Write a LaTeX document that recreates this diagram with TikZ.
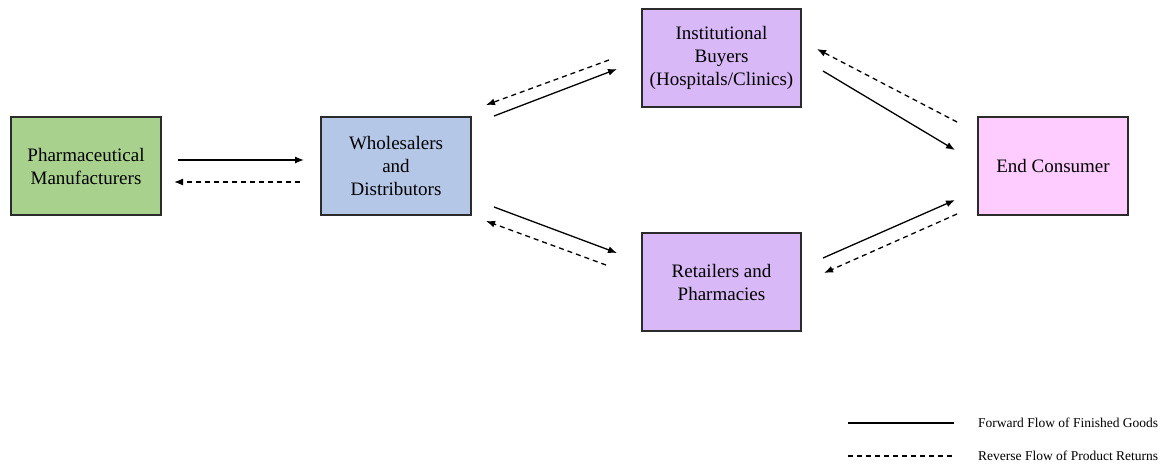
\documentclass[tikz,border=0pt]{standalone}
\usepackage{fontspec}
\setmainfont{Liberation Serif}
\usetikzlibrary{arrows.meta}
\definecolor{mgreen}{HTML}{A9D18E}
\definecolor{mblue}{HTML}{B4C7E7}
\definecolor{mpurple}{HTML}{D9B8F7}
\definecolor{mpink}{HTML}{FFCCFF}
\definecolor{mborder}{HTML}{2B2B2B}
\tikzset{
  box/.style={draw=mborder, line width=1.4pt, minimum width=150pt, minimum height=98pt, align=center, inner sep=2pt, font=\fontsize{19}{23}\selectfont},
  fwd/.style={line width=1.3pt, -{Latex[length=9pt,width=7pt]}},
  rev/.style={line width=1.3pt, dash pattern=on 5pt off 4pt, -{Latex[length=9pt,width=7pt]}},
  legtext/.style={anchor=west, font=\fontsize{13.5}{15}\selectfont, inner sep=0pt}
}
\begin{document}
\begin{tikzpicture}[x=1pt,y=-1pt]
\useasboundingbox (0,0) rectangle (1164,464);
\node[box, fill=mgreen] (man) at (86,166) {Pharmaceutical\\Manufacturers};
\node[box, fill=mblue] (whl) at (396,166) {Wholesalers\\and\\Distributors};
\node[box, fill=mpurple, minimum width=159pt] (ins) at (721.5,58) {Institutional\\Buyers\\(Hospitals/Clinics)};
\node[box, fill=mpurple, minimum width=159pt] (ret) at (721.5,282) {Retailers and\\Pharmacies};
\node[box, fill=mpink] (end) at (1053,166) {End Consumer};
% endpoints
\coordinate (a1) at (178,160); \coordinate (a2) at (304,160);
\coordinate (b1) at (300,182); \coordinate (b2) at (174,182);
\coordinate (c1) at (494,116); \coordinate (c2) at (617,69);
\coordinate (d1) at (609,60); \coordinate (d2) at (486,105);
\coordinate (e1) at (823,71); \coordinate (e2) at (955,150);
\coordinate (f1) at (957,122); \coordinate (f2) at (817,49);
\coordinate (g1) at (494,207); \coordinate (g2) at (617,253);
\coordinate (h1) at (606,265); \coordinate (h2) at (486,221);
\coordinate (i1) at (823,258); \coordinate (i2) at (955,200);
\coordinate (j1) at (957,214); \coordinate (j2) at (824,273);
\draw[fwd] (a1) -- (a2);
\draw[rev] (b1) -- (b2);
\draw[fwd] (c1) -- (c2);
\draw[rev] (d1) -- (d2);
\draw[fwd] (e1) -- (e2);
\draw[rev] (f1) -- (f2);
\draw[fwd] (g1) -- (g2);
\draw[rev] (h1) -- (h2);
\draw[fwd] (i1) -- (i2);
\draw[rev] (j1) -- (j2);
% legend
\coordinate (l1) at (848,423); \coordinate (l2) at (954,423);
\coordinate (l3) at (848,456); \coordinate (l4) at (954,456);
\draw[line width=1.3pt] (l1) -- (l2);
\draw[line width=1.3pt, dash pattern=on 5pt off 4pt] (l3) -- (l4);
\node[legtext] (lf) at (978,423) {Forward Flow of Finished Goods};
\node[legtext] (lr) at (978,456) {Reverse Flow of Product Returns};
\end{tikzpicture}
\end{document}
